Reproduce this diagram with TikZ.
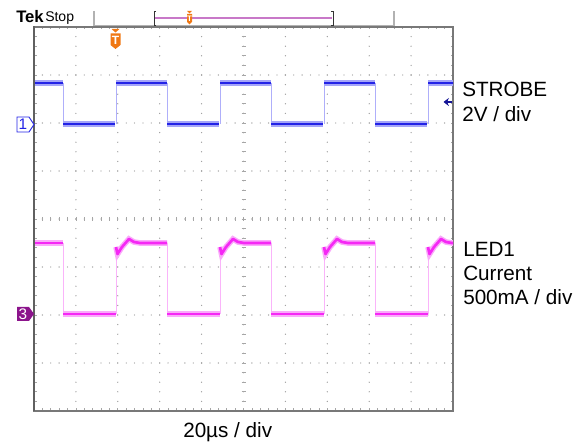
\documentclass[tikz,border=0pt]{standalone}
\usepackage{fontspec}
\setmainfont{Liberation Sans}
\usetikzlibrary{arrows.meta}
\definecolor{chblue}{RGB}{35,35,230}
\definecolor{chbluelight}{RGB}{165,165,248}
\definecolor{chblueedge}{RGB}{175,175,250}
\definecolor{chmag}{RGB}{245,40,245}
\definecolor{chmaglight}{RGB}{250,170,250}
\definecolor{chmagedge}{RGB}{250,180,250}
\definecolor{chthree}{RGB}{140,20,140}
\definecolor{trigorange}{RGB}{240,120,20}
\definecolor{recline}{RGB}{200,120,200}
\definecolor{framegray}{RGB}{120,120,120}
\definecolor{triglevel}{RGB}{20,20,150}
\tikzset{
  griddot/.style={fill=gray!80},
  ticks/.style={draw=gray!70, line width=0.5pt},
  bluelevel/.style={draw=chblue, line width=2pt, preaction={draw=chbluelight, line width=4.2pt}},
  blueedge/.style={draw=chblueedge, line width=0.6pt},
  maglevel/.style={draw=chmag, line width=2pt, line join=round, preaction={draw=chmaglight, line width=4.2pt}},
  magedge/.style={draw=chmagedge, line width=0.6pt},
  scaletext/.style={anchor=base west, inner sep=0pt, font=\fontsize{15.5}{18}\selectfont},
  markerfont/.style={inner sep=0pt, font=\fontsize{11.5}{11.5}\selectfont}
}

\begin{document}
\begin{tikzpicture}[x=0.75pt,y=-0.75pt]
\useasboundingbox (0,0) rectangle (576,445);

% header
\node[anchor=base west, inner sep=0pt, font=\bfseries\fontsize{12.5}{12}\selectfont] (tek) at (16,23) {Tek};
\node[anchor=base west, inner sep=0pt, font=\fontsize{10.5}{12}\selectfont] (stop) at (45,22) {Stop};
\draw[gray!60, line width=0.8pt] (94,11) -- (94,26) -- (394,26) -- (394,11);
\draw[black!80, line width=0.7pt] (156,11) -- (154,11) -- (154,25) -- (156,25);
\draw[black!80, line width=0.7pt] (331,11) -- (333,11) -- (333,25) -- (331,25);
\draw[recline, line width=1.4pt] (155,17.7) -- (332,17.7);
\fill[trigorange] (187,11) -- (192,11) -- (189.5,13.5) -- cycle;
\fill[trigorange] (187,14) -- (192,14) -- (192,22) -- (189.5,24.5) -- (187,22) -- cycle;
\node[inner sep=0pt, text=white, font=\bfseries\fontsize{6}{6}\selectfont] (trigsmall) at (189.5,19) {T};

% grid dots
\foreach \k in {1,2,3,5,6,7}
  \foreach \j in {0,...,50}
    \fill[griddot] (34+\j*8.38,27+\k*48) circle[radius=0.5pt];
\foreach \k in {1,2,3,4,6,7,8,9}
  \foreach \j in {0,...,40}
    \fill[griddot] (34+\k*41.9,27+\j*9.6) circle[radius=0.5pt];

% centre axes
\foreach \j in {0,...,50}
  {
    \fill[griddot] (34+\j*8.38,219) circle[radius=0.5pt];
    \draw[ticks] (34+\j*8.38,217) -- ++(0,4);
    \draw[ticks] (34+\j*8.38,27) -- ++(0,2.5);
    \draw[ticks] (34+\j*8.38,411) -- ++(0,-2.5);
  }
\foreach \j in {0,...,40}
  {
    \fill[griddot] (243.5,27+\j*9.6) circle[radius=0.5pt];
    \draw[ticks] (241.5,27+\j*9.6) -- ++(4,0);
    \draw[ticks] (34,27+\j*9.6) -- ++(2.5,0);
    \draw[ticks] (453,27+\j*9.6) -- ++(-2.5,0);
  }

% frame
\draw[framegray, line width=1pt] (34,27) rectangle (453,411);
\draw[framegray!80!black, line width=2.2pt] (34,26.5) -- (34,411.5);

% traces
\begin{scope}
\clip (35,27) rectangle (453,411);
\draw[bluelevel] (34,83) -- (63,83);
\draw[maglevel] (34,243) -- (63,243);
\foreach \f in {63,167,271,375}
  {
    \draw[blueedge] (\f,83) -- (\f,124);
    \draw[bluelevel] (\f,124) -- (\f+52,124);
    \draw[blueedge] (\f+53,124) -- (\f+53,83);
    \draw[bluelevel] (\f+53,83) -- (\f+104,83);
    \draw[magedge] (\f,243) -- (\f,314);
    \draw[maglevel] (\f,314) -- (\f+53,314);
    \draw[magedge] (\f+53,314) -- (\f+53,247);
    \draw[maglevel] (\f+53,247) -- (\f+54.5,254) -- (\f+59,247) -- (\f+66,239)
      -- (\f+71,242) -- (\f+77,243) -- (\f+104,243);
  }
\end{scope}

% channel markers
\filldraw[draw=chblue, fill=white, line width=0.7pt] (17,117) -- (29,117) -- (34,124.5) -- (29,132) -- (17,132) -- cycle;
\node[markerfont, text=chblue] (ch1) at (23,124.5) {1};
\fill[chthree] (17,307) -- (29,307) -- (34,314) -- (29,321) -- (17,321) -- cycle;
\node[markerfont, text=white] (ch3) at (23,314) {3};

% trigger position and level
\fill[trigorange] (111.5,29) -- (119.5,29) -- (115.5,32.5) -- cycle;
\fill[trigorange] (110.5,33.5) -- (120.5,33.5) -- (120.5,45) -- (115.5,49) -- (110.5,45) -- cycle;
\node[inner sep=0pt, text=white, font=\bfseries\fontsize{9}{9}\selectfont] (trigpos) at (115.5,40.5) {T};
\coordinate (lvltail) at (452,102);
\coordinate (lvlhead) at (443.5,102);
\draw[triglevel, line width=1.2pt, -{Stealth[length=4pt,width=6pt]}] (lvltail) -- (lvlhead);

% scale labels
\node[scaletext] (strobe) at (462,97) {STROBE};
\node[scaletext] (strobediv) at (462,122) {2V / div};
\node[scaletext] (led) at (463,257) {LED1};
\node[scaletext] (ledcur) at (463,281) {Current};
\node[scaletext] (leddiv) at (463,305) {500mA / div};
\node[scaletext] (timediv) at (183,438) {20µs / div};
\end{tikzpicture}
\end{document}
